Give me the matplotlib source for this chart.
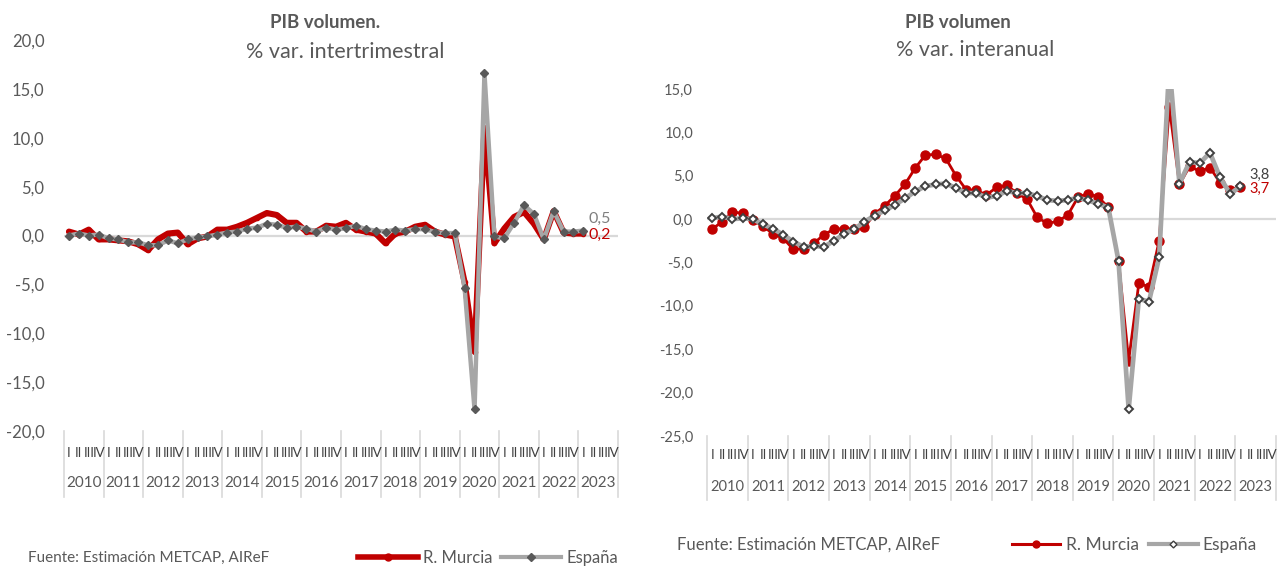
import matplotlib
matplotlib.use("Agg")
import matplotlib.pyplot as plt
from matplotlib.lines import Line2D
from matplotlib.transforms import blended_transform_factory

plt.rcParams['font.family'] = ['Lato', 'DejaVu Sans']

years = [str(y) for y in range(2010, 2024)]
quarters = ["I", "II", "III", "IV"]

murcia_qoq = [0.4, 0.1, 0.6, -0.4, -0.4, -0.5, -0.6, -0.9, -1.5, -0.4,
              0.2, 0.3, -0.9, -0.3, -0.1, 0.6, 0.6, 0.9, 1.3, 1.8,
              2.3, 2.1, 1.3, 1.3, 0.4, 0.4, 1.0, 0.9, 1.3, 0.6,
              0.4, 0.2, -0.8, 0.2, 0.4, 0.9, 1.1, 0.4, 0.1, -0.1,
              -4.8, -11.9, 11.0, -0.8, 0.7, 1.9, 2.4, 1.2, -0.4, 2.5,
              0.3, 0.2, 0.2]
espana_qoq = [0.0, 0.2, 0.0, 0.1, -0.3, -0.4, -0.7, -0.7, -1.0, -1.0,
              -0.5, -0.8, -0.4, -0.2, -0.1, 0.1, 0.3, 0.4, 0.7, 0.8,
              1.2, 1.1, 0.8, 0.9, 0.7, 0.4, 0.8, 0.6, 0.75, 1.0,
              0.65, 0.5, 0.4, 0.6, 0.5, 0.65, 0.65, 0.35, 0.25, 0.25,
              -5.4, -17.8, 16.6, -0.1, -0.3, 1.3, 3.1, 2.2, -0.4, 2.5,
              0.4, 0.4, 0.5]

murcia_yoy = [-1.15, -0.3, 0.85, 0.65, -0.1, -0.8, -1.7, -2.2, -3.5, -3.4,
              -2.8, -1.8, -1.15, -1.1, -1.15, -0.9, 0.6, 1.55, 2.7, 4.05,
              5.9, 7.4, 7.45, 7.0, 5.0, 3.4, 3.3, 2.8, 3.65, 3.9,
              3.0, 2.3, 0.2, -0.5, -0.25, 0.45, 2.5, 2.95, 2.55, 1.35,
              -4.8, -16.3, -7.4, -7.8, -2.5, 12.9, 4.0, 6.1, 5.5, 5.95,
              4.2, 3.4, 3.7]
espana_yoy = [0.1, 0.3, 0.0, 0.1, 0.0, -0.6, -1.1, -1.8, -2.6, -3.2,
              -3.1, -3.2, -2.5, -1.7, -1.15, -0.3, 0.4, 1.0, 1.65, 2.4,
              3.2, 3.8, 4.0, 4.1, 3.6, 3.0, 3.0, 2.5, 2.65, 3.25,
              3.0, 3.0, 2.65, 2.2, 2.1, 2.2, 2.45, 2.15, 1.8, 1.3,
              -4.8, -21.9, -9.2, -9.5, -4.4, 17.8, 4.1, 6.6, 6.45, 7.65,
              4.8, 2.9, 3.8]

RED = "#C00000"
GRAY = "#A6A6A6"
TXT = "#595959"

W, H = 1285, 569
fig = plt.figure(figsize=(W / 100, H / 100), dpi=100)


def fmt(v):
    return f"{v:.1f}".replace(".", ",")


def make_axes(x0, x1, ytop, ybot):
    return fig.add_axes([x0 / W, 1 - ybot / H, (x1 - x0) / W, (ybot - ytop) / H])


def decorate(ax, ylim, yticks, tick_fs, ypad, sep_px, q_px, y_px, year_fs, q_fs, height_px):
    ax.set_xlim(-0.5, len(years) * 4 - 0.5)
    ax.set_ylim(*ylim)
    ax.set_yticks(yticks)
    ax.set_yticklabels([fmt(v) for v in yticks], fontsize=tick_fs, color=TXT)
    ax.tick_params(axis="y", length=0, pad=ypad)
    ax.set_xticks([])
    for s in ax.spines.values():
        s.set_visible(False)
    ax.axhline(0, color="#D9D9D9", lw=1.6, zorder=1)
    tr = blended_transform_factory(ax.transData, ax.transAxes)
    for k in range(len(years) + 1):
        xb = -0.5 + 4 * k
        ax.add_line(Line2D([xb, xb], [0, -sep_px / height_px], transform=tr,
                           color="#D9D9D9", lw=1.2, clip_on=False))
    for k, yr in enumerate(years):
        ax.text(4 * k + 1.5, -y_px / height_px, yr, transform=tr, ha="center",
                va="center", fontsize=year_fs, color=TXT)
        for j, q in enumerate(quarters):
            ax.text(4 * k + j, -q_px / height_px, q, transform=tr, ha="center",
                    va="center", fontsize=q_fs, color="#404040")


# ---------- Left chart ----------
axL = make_axes(64, 618, 40, 431)
xs = list(range(len(murcia_qoq)))
axL.plot(xs, murcia_qoq, color=RED, lw=4.4, marker="o", ms=3, zorder=3,
         solid_capstyle="round", solid_joinstyle="round")
axL.plot(xs, espana_qoq, color=GRAY, lw=3.2, marker="D", ms=4.2,
         mfc="#595959", mec="#595959", zorder=4)
decorate(axL, (-20, 20), [-20, -15, -10, -5, 0, 5, 10, 15, 20], 12, 14,
         66, 22, 52, 11, 9.5, 391)
axL.text(xs[-1] + 0.5, espana_qoq[-1] + 1.2, fmt(espana_qoq[-1]), color="#7F7F7F",
         fontsize=11.5, ha="left", va="center")
axL.text(xs[-1] + 0.5, murcia_qoq[-1] - 0.1, fmt(murcia_qoq[-1]), color=RED,
         fontsize=11.5, ha="left", va="center")
fig.text(325 / W, 1 - 22 / H, "PIB volumen.", fontsize=13.5, fontweight="bold",
         color=TXT, ha="center", va="center")
fig.text(345 / W, 1 - 52 / H, "% var. intertrimestral", fontsize=15.5,
         color=TXT, ha="center", va="center")
fig.text(28 / W, 1 - 558 / H, "Fuente: Estimación METCAP, AIReF", fontsize=11,
         color=TXT, ha="left", va="center")
hL = [Line2D([], [], color=RED, lw=4, marker="o", ms=5),
      Line2D([], [], color=GRAY, lw=3, marker="D", ms=4, mfc="#595959", mec="#595959")]
fig.legend(hL, ["R. Murcia", "España"], loc="center left",
           bbox_to_anchor=(350 / W, 1 - 558 / H), ncol=2, frameon=False,
           fontsize=12, handlelength=3.6, handletextpad=0.3, columnspacing=0.5,
           labelcolor=TXT, borderpad=0)

# ---------- Right chart ----------
axR = make_axes(707, 1276, 89, 436)
axR.plot(xs, murcia_yoy, color=RED, lw=2.0, marker="o", ms=6.5, zorder=3)
axR.plot(xs, espana_yoy, color=GRAY, lw=3.4, marker="D", ms=4.2,
         mfc="white", mec="#404040", mew=1.4, zorder=4)
decorate(axR, (-25, 15), [-25, -20, -15, -10, -5, 0, 5, 10, 15], 10.5, 10,
         64, 19, 51, 10.5, 9.5, 347)
axR.text(xs[-1] + 0.9, espana_yoy[-1] + 1.3, fmt(espana_yoy[-1]), color="#404040",
         fontsize=10.5, ha="left", va="center")
axR.text(xs[-1] + 0.9, murcia_yoy[-1] - 0.2, fmt(murcia_yoy[-1]), color=RED,
         fontsize=10.5, ha="left", va="center")
fig.text(958 / W, 1 - 22 / H, "PIB volumen", fontsize=13.5, fontweight="bold",
         color=TXT, ha="center", va="center")
fig.text(975 / W, 1 - 50 / H, "% var. interanual", fontsize=15.5,
         color=TXT, ha="center", va="center")
fig.text(677 / W, 1 - 545 / H, "Fuente: Estimación METCAP, AIReF", fontsize=12,
         color=TXT, ha="left", va="center")
hR = [Line2D([], [], color=RED, lw=2.2, marker="o", ms=5),
      Line2D([], [], color=GRAY, lw=3, marker="D", ms=3.5, mfc="white", mec="#404040")]
fig.legend(hR, ["R. Murcia", "España"], loc="center left",
           bbox_to_anchor=(1003 / W, 1 - 545 / H), ncol=2, frameon=False,
           fontsize=12.5, handlelength=2.8, handletextpad=0.3, columnspacing=0.6,
           labelcolor=TXT, borderpad=0)

fig.savefig("out.png", dpi=100, facecolor="white")
